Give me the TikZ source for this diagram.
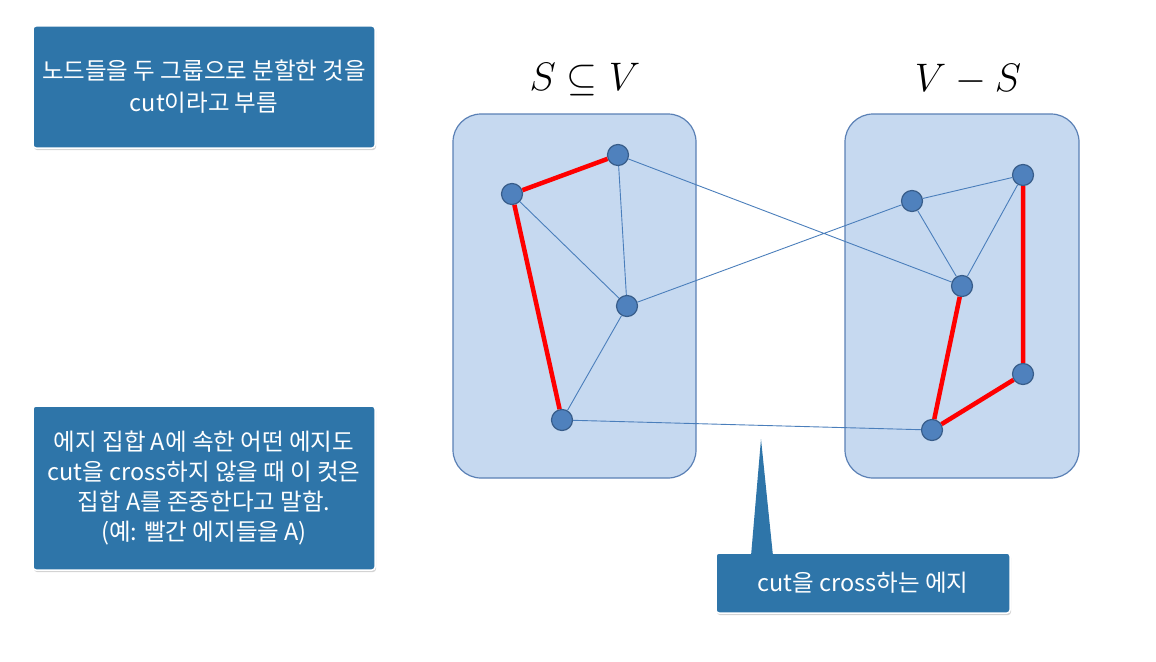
\documentclass[tikz,border=0pt]{standalone}
\usepackage{fontspec}
\setmainfont{Noto Sans CJK KR}
\usetikzlibrary{shadows}

\definecolor{notefill}{HTML}{2E75A9}
\definecolor{setfill}{HTML}{C6D9F0}
\definecolor{setline}{HTML}{5A80B5}
\definecolor{vfill}{HTML}{4F81BD}
\definecolor{vline}{HTML}{385D8A}
\definecolor{edgeblue}{HTML}{4A7EBB}

\tikzset{
  vertex/.style={circle, fill=vfill, draw=vline, line width=1.2pt, minimum size=21pt, inner sep=0pt},
  setbox/.style={draw=setline, fill=setfill, line width=1.2pt, rounded corners=28pt, inner sep=0pt},
  note/.style={fill=notefill, draw=white, line width=1.5pt, text=white, align=center,
    font=\fontsize{23.5}{30}\selectfont, rounded corners=3pt, inner sep=0pt,
    drop shadow={opacity=0.35, shadow xshift=1pt, shadow yshift=-2pt}},
  setlabel/.style={font=\Huge, scale=1.6, transform shape},
  thin edge/.style={edgeblue, line width=0.9pt},
  cut edge/.style={red, line width=4.5pt},
}

\begin{document}
\begin{tikzpicture}[x=1pt, y=-1pt]
\useasboundingbox (0,0) rectangle (1156,661);

% the two sides of the cut
\node (S) [setbox, minimum width=243pt, minimum height=364pt] at (574.5,296) {};
\node (VS) [setbox, minimum width=234pt, minimum height=364pt] at (962,296) {};
\node (Slabel) [setlabel] at (585,80) {$S\subseteq V$};
\node (VSlabel) [setlabel] at (968,80) {$V-S$};

% vertices
\node (a) [vertex] at (512,194) {};
\node (b) [vertex] at (618,155) {};
\node (c) [vertex] at (627,306) {};
\node (d) [vertex] at (562,420) {};
\node (e) [vertex] at (912,201) {};
\node (f) [vertex] at (1023,175) {};
\node (g) [vertex] at (962,286) {};
\node (h) [vertex] at (1023,374) {};
\node (i) [vertex] at (932,430) {};

% edges
\draw [thin edge] (a) -- (c) (b) -- (c) (c) -- (d)
      (e) -- (f) (e) -- (g) (f) -- (g)
      (b) -- (g) (c) -- (e) (d) -- (i);
\draw [cut edge] (a) -- (b) (a) -- (d)
      (g) -- (i) (f) -- (h) (h) -- (i);

% notes
\node (note1) [note, minimum width=342pt, minimum height=122pt] at (204,87)
      {노드들을 두 그룹으로 분할한 것을\\[2pt]cut이라고 부름};
\node (note2) [note, minimum width=342pt, minimum height=164pt] at (204,488)
      {에지 집합 A에 속한 어떤 에지도\\cut을 cross하지 않을 때 이 컷은\\집합 A를 존중한다고 말함.\\(예: 빨간 에지들을 A)};
\node (note3) [note, minimum width=294pt, minimum height=60pt] at (863,583)
      {cut을 cross하는 에지};
\coordinate (tip) at (761,439);
\fill [notefill] (tip) -- (751,556) -- (773,556) -- cycle;
\end{tikzpicture}
\end{document}
